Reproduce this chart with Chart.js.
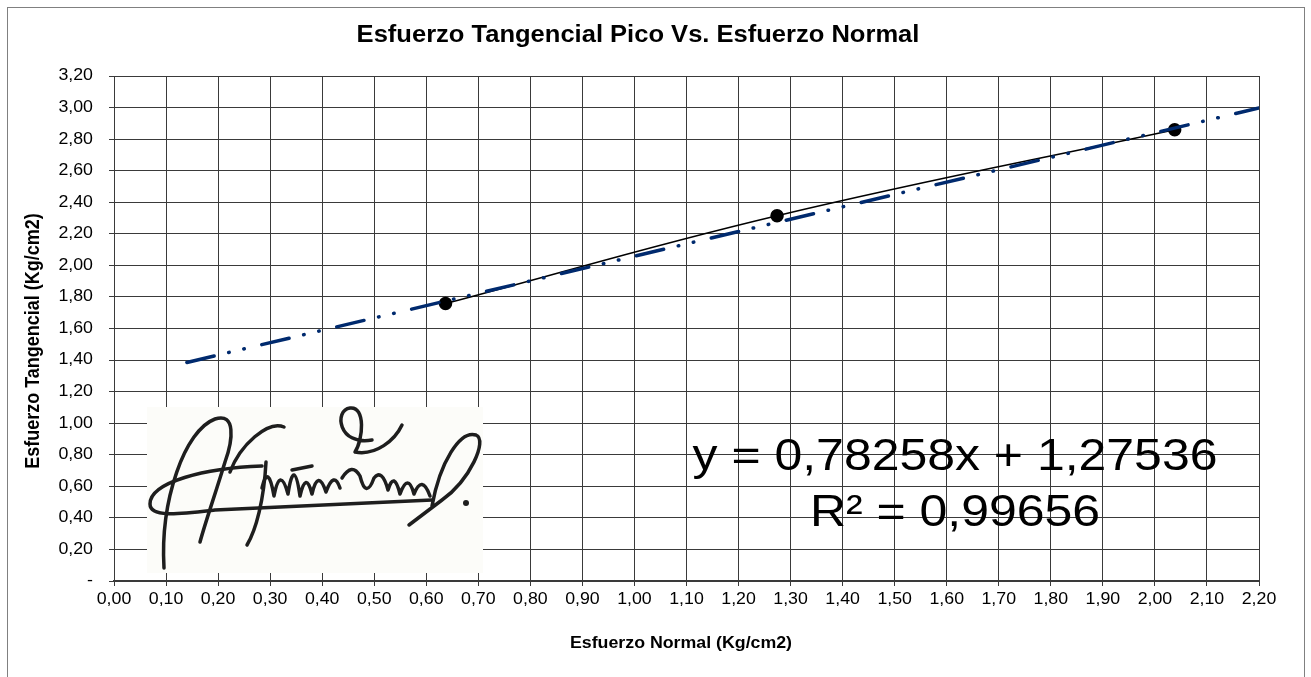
<!DOCTYPE html>
<html>
<head>
<meta charset="utf-8">
<script src="https://cdn.jsdelivr.net/npm/chart.js@4.4.1/dist/chart.umd.min.js"></script>
<style>
  html, body { margin: 0; padding: 0; background: #fff; }
  #wrap { width: 1311px; height: 677px; }
</style>
</head>
<body>
<div id="wrap"><canvas id="chart" width="1311" height="677"></canvas></div>
<script>
// data
const pointX = [0.637, 1.274, 2.038];
const pointY = [1.758, 2.315, 2.860];
const trendX = [0.14, 2.20];
const trendY = [1.385, 2.997];
const xTickLabels = ['0,00','0,10','0,20','0,30','0,40','0,50','0,60','0,70','0,80','0,90','1,00',
  '1,10','1,20','1,30','1,40','1,50','1,60','1,70','1,80','1,90','2,00','2,10','2,20'];
const yTickLabels = ['-','0,20','0,40','0,60','0,80','1,00','1,20','1,40','1,60','1,80','2,00',
  '2,20','2,40','2,60','2,80','3,00','3,20'];
const titleText = 'Esfuerzo Tangencial Pico Vs. Esfuerzo Normal';
const xTitle = 'Esfuerzo Normal (Kg/cm2)';
const yTitle = 'Esfuerzo Tangencial (Kg/cm2)';
const eqLines = ['y = 0,78258x + 1,27536', 'R\u00b2 = 0,99656'];

const FONT = 'Arial, "Liberation Sans", sans-serif';
const GRID = '#3a3a3a';
const STRETCH = 1.11; // the original text is a bit wide

function wideText(ctx, text, x, y, font, align, rot) {
  ctx.save();
  ctx.translate(x, y);
  if (rot) ctx.rotate(rot);
  ctx.scale(rot ? 1 : STRETCH, rot ? STRETCH : 1);
  ctx.font = font;
  ctx.fillStyle = '#000';
  ctx.textAlign = align;
  ctx.textBaseline = 'middle';
  ctx.fillText(text, 0, 0);
  ctx.restore();
}

// frame, titles, tick labels, signature box and equation
const decor = {
  id: 'decor',
  beforeDraw(chart) {
    const ctx = chart.ctx;
    ctx.save();
    ctx.fillStyle = '#fff';
    ctx.fillRect(0, 0, chart.width, chart.height);
    ctx.strokeStyle = '#808080';
    ctx.lineWidth = 1;
    ctx.strokeRect(7.5, 7.5, 1297, 700);
    ctx.restore();
    wideText(ctx, titleText, 638, 36, 'bold 23px ' + FONT, 'center');
  },
  afterDraw(chart) {
    const ctx = chart.ctx;
    const xs = chart.scales.x, ys = chart.scales.y;
    xs.ticks.forEach((t, i) => {
      wideText(ctx, xTickLabels[i], xs.getPixelForValue(t.value), 600, '16px ' + FONT, 'center');
    });
    ys.ticks.forEach((t, i) => {
      wideText(ctx, yTickLabels[i], 93, ys.getPixelForValue(t.value), '16px ' + FONT, 'right');
    });
    wideText(ctx, xTitle, 681, 644, 'bold 16px ' + FONT, 'center');
    wideText(ctx, yTitle, 33, 341, 'bold 18px ' + FONT, 'center', -Math.PI / 2);
    ctx.save();
    drawSignature(ctx, 147, 407);
    ctx.restore();
    wideText(ctx, eqLines[0], 955, 458, '45px ' + FONT, 'center');
    wideText(ctx, eqLines[1], 955, 514, '45px ' + FONT, 'center');
  }
};

function drawSignature(ctx, bx, by) {
  ctx.fillStyle = '#fcfcf9';
  ctx.fillRect(bx, by, 336, 166);
  ctx.translate(bx - 147, by - 407);
  ctx.strokeStyle = '#1e1e1e';
  ctx.lineWidth = 3.5;
  ctx.lineCap = 'round';
  ctx.lineJoin = 'round';
  const s = (fn) => { ctx.beginPath(); fn(); ctx.stroke(); };
  // A
  s(() => {
    ctx.moveTo(164, 568);
    ctx.bezierCurveTo(160, 500, 185, 430, 215, 419);
    ctx.bezierCurveTo(236, 412, 233, 440, 225, 462);
    ctx.bezierCurveTo(215, 495, 206, 520, 200, 542);
  });
  // loop and baseline
  s(() => {
    ctx.moveTo(262, 466);
    ctx.bezierCurveTo(205, 468, 150, 482, 150, 504);
    ctx.bezierCurveTo(150, 518, 180, 514, 215, 510);
    ctx.lineTo(432, 500);
  });
  // g
  s(() => {
    ctx.moveTo(284, 427);
    ctx.bezierCurveTo(268, 420, 240, 445, 230, 472);
    ctx.moveTo(266, 462);
    ctx.bezierCurveTo(264, 500, 256, 530, 247, 545);
  });
  // ustin
  s(() => {
    ctx.moveTo(262, 488);
    ctx.quadraticCurveTo(268, 462, 274, 496);
    ctx.quadraticCurveTo(280, 465, 288, 494);
    ctx.quadraticCurveTo(294, 455, 300, 496);
    ctx.quadraticCurveTo(306, 470, 312, 494);
    ctx.quadraticCurveTo(318, 468, 326, 492);
    ctx.quadraticCurveTo(334, 470, 340, 488);
    ctx.moveTo(292, 470);
    ctx.lineTo(312, 466);
  });
  // L top loop
  s(() => {
    ctx.moveTo(372, 440);
    ctx.bezierCurveTo(338, 446, 334, 410, 350, 408);
    ctx.bezierCurveTo(366, 406, 363, 440, 355, 452);
    ctx.bezierCurveTo(376, 456, 395, 440, 402, 425);
  });
  // ozano
  s(() => {
    ctx.moveTo(342, 478);
    ctx.quadraticCurveTo(352, 462, 360, 476);
    ctx.quadraticCurveTo(366, 500, 374, 478);
    ctx.quadraticCurveTo(382, 468, 388, 490);
    ctx.quadraticCurveTo(394, 470, 400, 494);
    ctx.quadraticCurveTo(408, 472, 414, 494);
    ctx.quadraticCurveTo(422, 474, 430, 496);
  });
  // final l
  s(() => {
    ctx.moveTo(432, 506);
    ctx.bezierCurveTo(440, 462, 460, 430, 476, 435);
    ctx.bezierCurveTo(488, 440, 470, 480, 442, 500);
    ctx.lineTo(409, 525);
  });
  ctx.beginPath();
  ctx.fillStyle = '#1e1e1e';
  ctx.arc(466, 503, 3, 0, Math.PI * 2);
  ctx.fill();
}

new Chart(document.getElementById('chart'), {
  type: 'scatter',
  data: {
    datasets: [
      {
        label: 'Tendencia',
        data: trendX.map((x, i) => ({ x, y: trendY[i] })),
        showLine: true,
        borderColor: '#002a6e',
        borderWidth: 3.5,
        borderDash: [28, 15, 0.5, 15, 0.5, 18],
        borderCapStyle: 'round',
        pointRadius: 0
      },
      {
        label: 'Ensayo',
        data: pointX.map((x, i) => ({ x, y: pointY[i] })),
        showLine: true,
        tension: 0.4,
        borderColor: '#000',
        borderWidth: 1.5,
        pointRadius: 6,
        pointBackgroundColor: '#000',
        pointBorderColor: '#000'
      }
    ]
  },
  options: {
    responsive: false,
    animation: false,
    layout: { padding: { left: 10, right: 52, top: 76, bottom: 20 } },
    plugins: {
      legend: { display: false },
      tooltip: { enabled: false }
    },
    scales: {
      x: {
        type: 'linear',
        min: 0,
        max: 2.2,
        afterFit: (s) => { s.height = 76; },
        afterBuildTicks: (s) => { s.ticks = xTickLabels.map((_, i) => ({ value: i / 10 })); },
        ticks: { display: false, autoSkip: false },
        grid: { color: GRID, lineWidth: 1, tickLength: 5, tickColor: GRID },
        border: { color: GRID, width: 2 }
      },
      y: {
        type: 'linear',
        min: 0,
        max: 3.2,
        afterFit: (s) => { s.width = 104; },
        afterBuildTicks: (s) => { s.ticks = yTickLabels.map((_, i) => ({ value: i / 5 })); },
        ticks: { display: false, autoSkip: false },
        grid: { color: GRID, lineWidth: 1, tickLength: 5, tickColor: GRID },
        border: { color: GRID, width: 1 }
      }
    }
  },
  plugins: [decor]
});
</script>
</body>
</html>
